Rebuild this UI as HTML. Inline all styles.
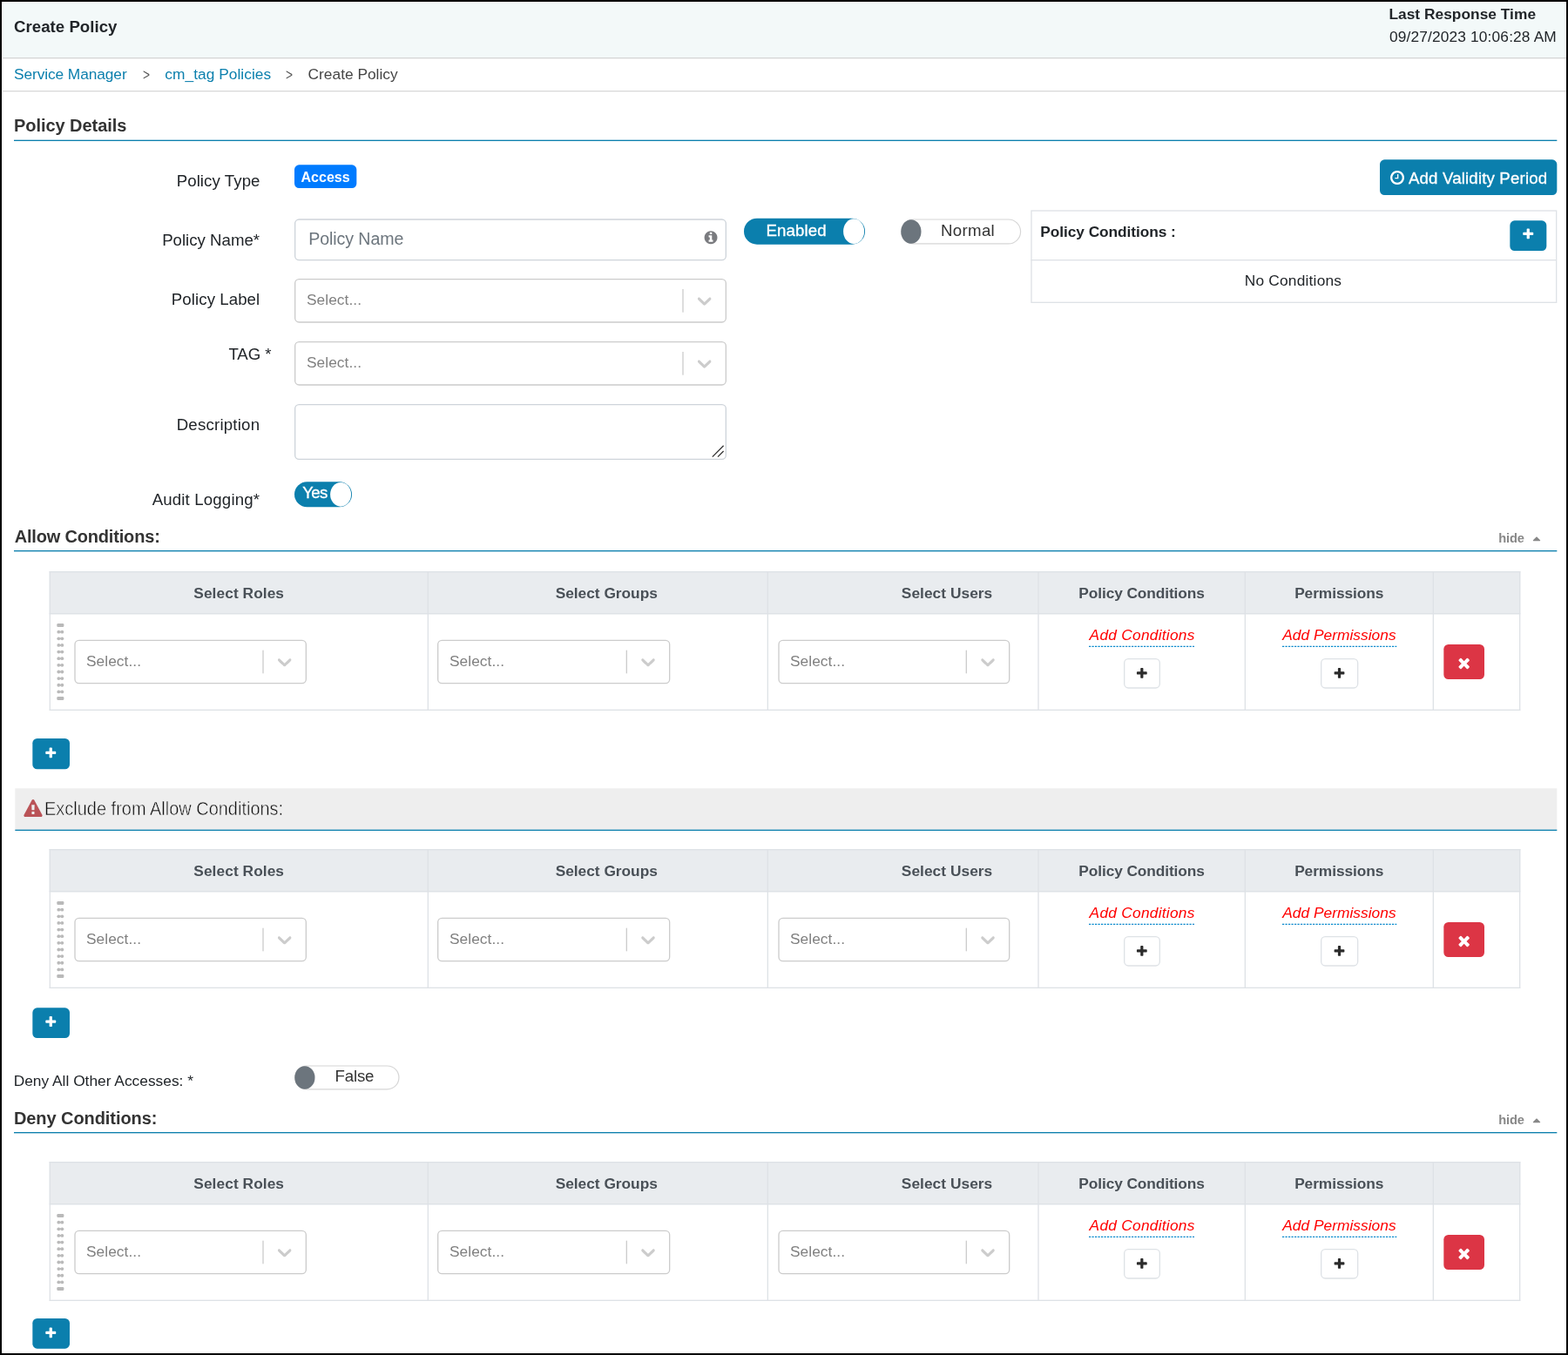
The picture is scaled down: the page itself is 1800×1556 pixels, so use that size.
<!DOCTYPE html>
<html lang="en"><head><meta charset="utf-8"><title>Create Policy</title>
<meta name="viewport" content="width=1800">
<style>
html,body{margin:0;padding:0;}
html{width:1800px;height:1556px;overflow:hidden;background:#fff;}
body{width:1800px;height:1556px;overflow:hidden;background:#fff;font-family:"Liberation Sans", sans-serif;position:relative;}
#frame{position:absolute;left:0;top:0;width:1800px;height:1556px;box-sizing:border-box;border:2px solid #000;pointer-events:none;z-index:10;}
#page{position:absolute;left:0;top:0;width:2700.000px;height:2334.000px;background:#fff;transform-origin:0 0;transform:scale(0.666667);}
#text{position:absolute;left:0;top:0;width:1800px;height:1556px;z-index:5;}
.t{position:absolute;margin:0;padding:0;white-space:nowrap;line-height:1;font-weight:400;display:block;}

#page div,#page svg,#page i{position:absolute;}
.tw{left:0;top:0;width:0;height:0;}
.ic{display:block;overflow:visible;}
.sel{border:2px solid #ccc;border-radius:7.995px;box-sizing:border-box;background:#fff;}
#page .sel .sep{right:72px;top:16.005px;bottom:16.005px;width:2px;background:#ccc;}
#page .sel .chev{right:16.005px;top:50%;margin-top:-19.995px;width:40.005px;height:40.005px;}
</style></head>
<body><div id="page">
<div style="left:4.5px;top:4.5px;width:2691px;height:94.5px;background:#f3f9f9;"></div>
<div style="left:4.5px;top:98.625px;width:2692.5px;height:1.995px;background:#d6d6d6;"></div>
<div style="left:4.5px;top:155.925px;width:2692.5px;height:1.995px;background:#d9d9d9;"></div>
<div style="left:24px;top:241.05px;width:2656.5px;height:2.25px;background:#0b7fad;"></div>
<div style="left:507px;top:283.5px;width:106.5px;height:40.5px;background:#007bff;border-radius:7.995px;"></div>
<div style="left:507px;top:376.5px;width:744px;height:72px;border:2px solid #ced4da;border-radius:7.995px;box-sizing:border-box;background:#fff;"></div>
<svg class="ic" style="left:1211.4px;top:395.85px;width:26.1px;height:26.1px" viewBox="0 0 1792 1792"><path fill="#7a7b7f" d="M1152 1376v-160q0-14-9-23t-23-9h-96v-512q0-14-9-23t-23-9h-320q-14 0-23 9t-9 23v160q0 14 9 23t23 9h96v320h-96q-14 0-23 9t-9 23v160q0 14 9 23t23 9h448q14 0 23-9t9-23zm-128-896v-160q0-14-9-23t-23-9h-192q-14 0-23 9t-9 23v160q0 14 9 23t23 9h192q14 0 23-9t9-23zm640 416q0 209-103 385.500t-279.500 279.500-385.500 103-385.500-103-279.500-279.500-103-385.500 103-385.500 279.500-279.500 385.500-103 385.500 103 279.500 279.500 103 385.500z"/></svg>
<svg class="ic" style="left:1281px;top:376.125px;width:208.5px;height:45px" viewBox="0 0 139.00 30.00"><rect x="0" y="0" width="139.00" height="30.00" rx="15.00" fill="#0b7fad"/><ellipse cx="126.10" cy="15.00" rx="12.0" ry="14.30" fill="#fff"/></svg>
<svg class="ic" style="left:1550.625px;top:376.875px;width:207.375px;height:43.875px" viewBox="0 0 138.25 29.25"><rect x="0.67" y="0.67" width="136.92" height="27.92" rx="13.96" fill="#fff" stroke="#d6d6d6" stroke-width="1.2"/><ellipse cx="11.9" cy="14.62" rx="11.6" ry="13.82" fill="#6c757d"/></svg>
<svg class="ic" style="left:507px;top:829.5px;width:99px;height:43.5px" viewBox="0 0 66.00 29.00"><rect x="0" y="0" width="66.00" height="29.00" rx="14.50" fill="#0b7fad"/><ellipse cx="53.10" cy="14.50" rx="12.0" ry="13.80" fill="#fff"/></svg>
<div class="sel" style="left:507px;top:480px;width:744px;height:76.005px"><i class="sep"></i><svg class="chev" viewBox="0 0 20 20"><path fill="#ccc" d="M4.516 7.548c0.436-0.446 1.043-0.481 1.576 0l3.908 3.747 3.908-3.747c0.533-0.481 1.141-0.446 1.574 0 0.436 0.445 0.408 1.197 0 1.615-0.406 0.418-4.695 4.502-4.695 4.502-0.217 0.223-0.502 0.335-0.787 0.335s-0.57-0.112-0.789-0.335c0 0-4.287-4.084-4.695-4.502s-0.436-1.17 0-1.615z"/></svg></div>
<div class="sel" style="left:507px;top:588px;width:744px;height:76.005px"><i class="sep"></i><svg class="chev" viewBox="0 0 20 20"><path fill="#ccc" d="M4.516 7.548c0.436-0.446 1.043-0.481 1.576 0l3.908 3.747 3.908-3.747c0.533-0.481 1.141-0.446 1.574 0 0.436 0.445 0.408 1.197 0 1.615-0.406 0.418-4.695 4.502-4.695 4.502-0.217 0.223-0.502 0.335-0.787 0.335s-0.57-0.112-0.789-0.335c0 0-4.287-4.084-4.695-4.502s-0.436-1.17 0-1.615z"/></svg></div>
<div style="left:507px;top:696px;width:744px;height:95.55px;border:2px solid #ced4da;border-radius:7.995px;box-sizing:border-box;background:#fff;"></div>
<svg class="ic" style="left:1224px;top:765px;width:24px;height:24px" viewBox="0 0 16 16"><path d="M14.6 1.8 L1.8 14.6 M14.6 8 L8 14.6" stroke="#333" stroke-width="1.3" fill="none"/></svg>
<div style="left:2376px;top:274.5px;width:304.5px;height:61.5px;background:#0b7fad;border-radius:7.995px;"></div>
<svg class="ic" style="left:2391.675px;top:292.275px;width:28.05px;height:28.05px" viewBox="0 0 1792 1792"><path fill="#fff" d="M1024 544v448q0 14-9 23t-23 9h-320q-14 0-23-9t-9-23v-64q0-14 9-23t23-9h224v-352q0-14 9-23t23-9h64q14 0 23 9t9 23zm416 352q0-148-73-273t-198-198-273-73-273 73-198 198-73 273 73 273 198 198 273 73 273-73 198-198 73-273zm224 0q0 209-103 385.500t-279.500 279.500-385.500 103-385.500-103-279.500-279.500-103-385.500 103-385.500 279.500-279.500 385.500-103 385.500 103 279.500 279.500 103 385.500z"/></svg>
<div style="left:1774.5px;top:361.5px;width:906px;height:160.5px;border:2px solid #dee2e6;box-sizing:border-box;"></div>
<div style="left:1774.95px;top:446.55px;width:905.25px;height:1.995px;background:#dee2e6;"></div>
<div style="left:2599.5px;top:379.5px;width:63px;height:52.5px;background:#0b7fad;border-radius:7.995px;"></div>
<svg class="ic" style="left:2619.6px;top:392.4px;width:22.8px;height:22.8px" viewBox="0 0 1792 1792"><path fill="#fff" d="M1600 736v192q0 40-28 68t-68 28h-416v416q0 40-28 68t-68 28h-192q-40 0-68-28t-28-68v-416h-416q-40 0-68-28t-28-68v-192q0-40 28-68t68-28h416v-416q0-40 28-68t68-28h192q40 0 68 28t28 68v416h416q40 0 68 28t28 68z"/></svg>
<svg class="ic" style="left:2634.855px;top:915.99px;width:22.005px;height:22.005px" viewBox="0 0 1792 1792"><path fill="#888" d="M1408 1216q0 26-19 45t-45 19h-896q-26 0-45-19t-19-45 19-45l448-448q19-19 45-19t45 19l448 448q19 19 19 45z"/></svg>
<div style="left:24px;top:947.7px;width:2656.5px;height:2.25px;background:#0b7fad;"></div>
<div class="tw" style="transform:translateY(0px)">
<div style="left:85.095px;top:984.375px;width:2532.96px;height:73.155px;background:#e9ecef;"></div>
<div style="left:85.095px;top:984.375px;width:2532.96px;height:1.995px;background:#dee2e6;"></div>
<div style="left:85.095px;top:1055.52px;width:2532.96px;height:1.995px;background:#dee2e6;"></div>
<div style="left:85.095px;top:1222.02px;width:2532.96px;height:1.995px;background:#dee2e6;"></div>
<div style="left:85.095px;top:984.375px;width:1.995px;height:239.655px;background:#dee2e6;"></div>
<div style="left:736.095px;top:984.375px;width:1.995px;height:239.655px;background:#dee2e6;"></div>
<div style="left:1321.095px;top:984.375px;width:1.995px;height:239.655px;background:#dee2e6;"></div>
<div style="left:1787.295px;top:984.375px;width:1.995px;height:239.655px;background:#dee2e6;"></div>
<div style="left:2142.945px;top:984.375px;width:1.995px;height:239.655px;background:#dee2e6;"></div>
<div style="left:2466.945px;top:984.375px;width:1.995px;height:239.655px;background:#dee2e6;"></div>
<div style="left:2616.045px;top:984.375px;width:1.995px;height:239.655px;background:#dee2e6;"></div>
<svg class="ic" style="left:97.5px;top:1074px;width:12px;height:132.15px" viewBox="0 0 8 88.1"><rect x="0" y="0.00" width="8" height="4" rx="1.3" fill="#b9b9b9"/><circle cx="2" cy="9.64" r="1.9" fill="#b9b9b9"/><circle cx="6" cy="9.64" r="1.9" fill="#b9b9b9"/><rect x="2" y="8.64" width="4" height="2" fill="#bdbdbd"/><circle cx="2" cy="17.28" r="1.9" fill="#b9b9b9"/><circle cx="6" cy="17.28" r="1.9" fill="#b9b9b9"/><rect x="2" y="16.28" width="4" height="2" fill="#bdbdbd"/><circle cx="2" cy="24.92" r="1.9" fill="#b9b9b9"/><circle cx="6" cy="24.92" r="1.9" fill="#b9b9b9"/><rect x="2" y="23.92" width="4" height="2" fill="#bdbdbd"/><circle cx="2" cy="32.56" r="1.9" fill="#b9b9b9"/><circle cx="6" cy="32.56" r="1.9" fill="#b9b9b9"/><rect x="2" y="31.56" width="4" height="2" fill="#bdbdbd"/><circle cx="2" cy="40.20" r="1.9" fill="#b9b9b9"/><circle cx="6" cy="40.20" r="1.9" fill="#b9b9b9"/><rect x="2" y="39.20" width="4" height="2" fill="#bdbdbd"/><circle cx="2" cy="47.84" r="1.9" fill="#b9b9b9"/><circle cx="6" cy="47.84" r="1.9" fill="#b9b9b9"/><rect x="2" y="46.84" width="4" height="2" fill="#bdbdbd"/><circle cx="2" cy="55.48" r="1.9" fill="#b9b9b9"/><circle cx="6" cy="55.48" r="1.9" fill="#b9b9b9"/><rect x="2" y="54.48" width="4" height="2" fill="#bdbdbd"/><circle cx="2" cy="63.12" r="1.9" fill="#b9b9b9"/><circle cx="6" cy="63.12" r="1.9" fill="#b9b9b9"/><rect x="2" y="62.12" width="4" height="2" fill="#bdbdbd"/><circle cx="2" cy="70.76" r="1.9" fill="#b9b9b9"/><circle cx="6" cy="70.76" r="1.9" fill="#b9b9b9"/><rect x="2" y="69.76" width="4" height="2" fill="#bdbdbd"/><circle cx="2" cy="78.40" r="1.9" fill="#b9b9b9"/><circle cx="6" cy="78.40" r="1.9" fill="#b9b9b9"/><rect x="2" y="77.40" width="4" height="2" fill="#bdbdbd"/><rect x="0" y="84.04" width="8" height="4" rx="1.3" fill="#b9b9b9"/></svg>
<div class="sel" style="left:127.5px;top:1102.005px;width:400.5px;height:76.005px"><i class="sep"></i><svg class="chev" viewBox="0 0 20 20"><path fill="#ccc" d="M4.516 7.548c0.436-0.446 1.043-0.481 1.576 0l3.908 3.747 3.908-3.747c0.533-0.481 1.141-0.446 1.574 0 0.436 0.445 0.408 1.197 0 1.615-0.406 0.418-4.695 4.502-4.695 4.502-0.217 0.223-0.502 0.335-0.787 0.335s-0.57-0.112-0.789-0.335c0 0-4.287-4.084-4.695-4.502s-0.436-1.17 0-1.615z"/></svg></div>
<div class="sel" style="left:753px;top:1102.005px;width:400.5px;height:76.005px"><i class="sep"></i><svg class="chev" viewBox="0 0 20 20"><path fill="#ccc" d="M4.516 7.548c0.436-0.446 1.043-0.481 1.576 0l3.908 3.747 3.908-3.747c0.533-0.481 1.141-0.446 1.574 0 0.436 0.445 0.408 1.197 0 1.615-0.406 0.418-4.695 4.502-4.695 4.502-0.217 0.223-0.502 0.335-0.787 0.335s-0.57-0.112-0.789-0.335c0 0-4.287-4.084-4.695-4.502s-0.436-1.17 0-1.615z"/></svg></div>
<div class="sel" style="left:1339.5px;top:1102.005px;width:399.45px;height:76.005px"><i class="sep"></i><svg class="chev" viewBox="0 0 20 20"><path fill="#ccc" d="M4.516 7.548c0.436-0.446 1.043-0.481 1.576 0l3.908 3.747 3.908-3.747c0.533-0.481 1.141-0.446 1.574 0 0.436 0.445 0.408 1.197 0 1.615-0.406 0.418-4.695 4.502-4.695 4.502-0.217 0.223-0.502 0.335-0.787 0.335s-0.57-0.112-0.789-0.335c0 0-4.287-4.084-4.695-4.502s-0.436-1.17 0-1.615z"/></svg></div>
<svg class="ic" style="left:1875px;top:1112.325px;width:181.5px;height:3px" viewBox="0 0 121.00 2"><line x1="0" y1="1" x2="121.00" y2="1" stroke="#0088cc" stroke-width="1.15" stroke-dasharray="2.2 1.3"/></svg>
<svg class="ic" style="left:2207.55px;top:1112.325px;width:196.95px;height:3px" viewBox="0 0 131.30 2"><line x1="0" y1="1" x2="131.30" y2="1" stroke="#0088cc" stroke-width="1.15" stroke-dasharray="2.2 1.3"/></svg>
<div style="left:1935px;top:1134px;width:63px;height:52.05px;background:#fff;border:2px solid #dee2e6;border-radius:7.995px;box-sizing:border-box;"></div>
<svg class="ic" style="left:1955.25px;top:1149.075px;width:22.5px;height:22.5px" viewBox="0 0 1792 1792"><path fill="#2b2b2b" d="M1600 736v192q0 40-28 68t-68 28h-416v416q0 40-28 68t-68 28h-192q-40 0-68-28t-28-68v-416h-416q-40 0-68-28t-28-68v-192q0-40 28-68t68-28h416v-416q0-40 28-68t68-28h192q40 0 68 28t28 68v416h416q40 0 68 28t28 68z"/></svg>
<div style="left:2274px;top:1134px;width:64.5px;height:52.05px;background:#fff;border:2px solid #dee2e6;border-radius:7.995px;box-sizing:border-box;"></div>
<svg class="ic" style="left:2295px;top:1149.075px;width:22.5px;height:22.5px" viewBox="0 0 1792 1792"><path fill="#2b2b2b" d="M1600 736v192q0 40-28 68t-68 28h-416v416q0 40-28 68t-68 28h-192q-40 0-68-28t-28-68v-416h-416q-40 0-68-28t-28-68v-192q0-40 28-68t68-28h416v-416q0-40 28-68t68-28h192q40 0 68 28t28 68v416h416q40 0 68 28t28 68z"/></svg>
<div style="left:2485.5px;top:1110px;width:70.5px;height:60px;background:#dc3545;border-radius:7.995px;"></div>
<svg class="ic" style="left:2506.68px;top:1127.64px;width:28.005px;height:28.005px" viewBox="0 0 1792 1792"><path fill="#fff" d="M1490 1322q0 40-28 68l-136 136q-28 28-68 28t-68-28l-294-294-294 294q-28 28-68 28t-68-28l-136-136q-28-28-28-68t28-68l294-294-294-294q-28-28-28-68t28-68l136-136q28-28 68-28t68 28l294 294 294-294q28-28 68-28t68 28l136 136q28 28 28 68t-28 68l-294 294 294 294q28 28 28 68z"/></svg>
</div>
<div style="left:55.5px;top:1272px;width:64.5px;height:52.5px;background:#0b7fad;border-radius:7.995px;"></div>
<svg class="ic" style="left:76.35px;top:1285.95px;width:22.8px;height:22.8px" viewBox="0 0 1792 1792"><path fill="#fff" d="M1600 736v192q0 40-28 68t-68 28h-416v416q0 40-28 68t-68 28h-192q-40 0-68-28t-28-68v-416h-416q-40 0-68-28t-28-68v-192q0-40 28-68t68-28h416v-416q0-40 28-68t68-28h192q40 0 68 28t28 68v416h416q40 0 68 28t28 68z"/></svg>
<div style="left:25.5px;top:1357.5px;width:2655px;height:71.4px;background:#eeeeee;"></div>
<div style="left:25.5px;top:1428.75px;width:2655px;height:2.4px;background:#0b7fad;"></div>
<svg class="ic" style="left:40.5px;top:1376.55px;width:31.95px;height:30.15px" viewBox="0 0 1792 1664" preserveAspectRatio="none"><path fill="#ba5357" d="M1024 1375v-190q0-14-9.500-23.500t-22.500-9.500h-192q-13 0-22.500 9.500t-9.500 23.500v190q0 14 9.500 23.500t22.500 9.500h192q13 0 22.500-9.500t9.500-23.500zm-2-374l18-459q0-12-10-19-13-11-24-11h-220q-11 0-24 11-10 7-10 21l17 457q0 10 10 16.500t24 6.500h185q14 0 23.500-6.500t10.500-16.500zm-14-934l768 1408q35 63-2 126-17 29-46.500 46t-63.500 17h-1536q-34 0-63.500-17t-46.500-46q-37-63-2-126l768-1408q17-31 47-49t65-18 65 18 47 49z"/></svg>
<div class="tw" style="transform:translateY(478.5px)">
<div style="left:85.095px;top:984.375px;width:2532.96px;height:73.155px;background:#e9ecef;"></div>
<div style="left:85.095px;top:984.375px;width:2532.96px;height:1.995px;background:#dee2e6;"></div>
<div style="left:85.095px;top:1055.52px;width:2532.96px;height:1.995px;background:#dee2e6;"></div>
<div style="left:85.095px;top:1222.02px;width:2532.96px;height:1.995px;background:#dee2e6;"></div>
<div style="left:85.095px;top:984.375px;width:1.995px;height:239.655px;background:#dee2e6;"></div>
<div style="left:736.095px;top:984.375px;width:1.995px;height:239.655px;background:#dee2e6;"></div>
<div style="left:1321.095px;top:984.375px;width:1.995px;height:239.655px;background:#dee2e6;"></div>
<div style="left:1787.295px;top:984.375px;width:1.995px;height:239.655px;background:#dee2e6;"></div>
<div style="left:2142.945px;top:984.375px;width:1.995px;height:239.655px;background:#dee2e6;"></div>
<div style="left:2466.945px;top:984.375px;width:1.995px;height:239.655px;background:#dee2e6;"></div>
<div style="left:2616.045px;top:984.375px;width:1.995px;height:239.655px;background:#dee2e6;"></div>
<svg class="ic" style="left:97.5px;top:1074px;width:12px;height:132.15px" viewBox="0 0 8 88.1"><rect x="0" y="0.00" width="8" height="4" rx="1.3" fill="#b9b9b9"/><circle cx="2" cy="9.64" r="1.9" fill="#b9b9b9"/><circle cx="6" cy="9.64" r="1.9" fill="#b9b9b9"/><rect x="2" y="8.64" width="4" height="2" fill="#bdbdbd"/><circle cx="2" cy="17.28" r="1.9" fill="#b9b9b9"/><circle cx="6" cy="17.28" r="1.9" fill="#b9b9b9"/><rect x="2" y="16.28" width="4" height="2" fill="#bdbdbd"/><circle cx="2" cy="24.92" r="1.9" fill="#b9b9b9"/><circle cx="6" cy="24.92" r="1.9" fill="#b9b9b9"/><rect x="2" y="23.92" width="4" height="2" fill="#bdbdbd"/><circle cx="2" cy="32.56" r="1.9" fill="#b9b9b9"/><circle cx="6" cy="32.56" r="1.9" fill="#b9b9b9"/><rect x="2" y="31.56" width="4" height="2" fill="#bdbdbd"/><circle cx="2" cy="40.20" r="1.9" fill="#b9b9b9"/><circle cx="6" cy="40.20" r="1.9" fill="#b9b9b9"/><rect x="2" y="39.20" width="4" height="2" fill="#bdbdbd"/><circle cx="2" cy="47.84" r="1.9" fill="#b9b9b9"/><circle cx="6" cy="47.84" r="1.9" fill="#b9b9b9"/><rect x="2" y="46.84" width="4" height="2" fill="#bdbdbd"/><circle cx="2" cy="55.48" r="1.9" fill="#b9b9b9"/><circle cx="6" cy="55.48" r="1.9" fill="#b9b9b9"/><rect x="2" y="54.48" width="4" height="2" fill="#bdbdbd"/><circle cx="2" cy="63.12" r="1.9" fill="#b9b9b9"/><circle cx="6" cy="63.12" r="1.9" fill="#b9b9b9"/><rect x="2" y="62.12" width="4" height="2" fill="#bdbdbd"/><circle cx="2" cy="70.76" r="1.9" fill="#b9b9b9"/><circle cx="6" cy="70.76" r="1.9" fill="#b9b9b9"/><rect x="2" y="69.76" width="4" height="2" fill="#bdbdbd"/><circle cx="2" cy="78.40" r="1.9" fill="#b9b9b9"/><circle cx="6" cy="78.40" r="1.9" fill="#b9b9b9"/><rect x="2" y="77.40" width="4" height="2" fill="#bdbdbd"/><rect x="0" y="84.04" width="8" height="4" rx="1.3" fill="#b9b9b9"/></svg>
<div class="sel" style="left:127.5px;top:1102.005px;width:400.5px;height:76.005px"><i class="sep"></i><svg class="chev" viewBox="0 0 20 20"><path fill="#ccc" d="M4.516 7.548c0.436-0.446 1.043-0.481 1.576 0l3.908 3.747 3.908-3.747c0.533-0.481 1.141-0.446 1.574 0 0.436 0.445 0.408 1.197 0 1.615-0.406 0.418-4.695 4.502-4.695 4.502-0.217 0.223-0.502 0.335-0.787 0.335s-0.57-0.112-0.789-0.335c0 0-4.287-4.084-4.695-4.502s-0.436-1.17 0-1.615z"/></svg></div>
<div class="sel" style="left:753px;top:1102.005px;width:400.5px;height:76.005px"><i class="sep"></i><svg class="chev" viewBox="0 0 20 20"><path fill="#ccc" d="M4.516 7.548c0.436-0.446 1.043-0.481 1.576 0l3.908 3.747 3.908-3.747c0.533-0.481 1.141-0.446 1.574 0 0.436 0.445 0.408 1.197 0 1.615-0.406 0.418-4.695 4.502-4.695 4.502-0.217 0.223-0.502 0.335-0.787 0.335s-0.57-0.112-0.789-0.335c0 0-4.287-4.084-4.695-4.502s-0.436-1.17 0-1.615z"/></svg></div>
<div class="sel" style="left:1339.5px;top:1102.005px;width:399.45px;height:76.005px"><i class="sep"></i><svg class="chev" viewBox="0 0 20 20"><path fill="#ccc" d="M4.516 7.548c0.436-0.446 1.043-0.481 1.576 0l3.908 3.747 3.908-3.747c0.533-0.481 1.141-0.446 1.574 0 0.436 0.445 0.408 1.197 0 1.615-0.406 0.418-4.695 4.502-4.695 4.502-0.217 0.223-0.502 0.335-0.787 0.335s-0.57-0.112-0.789-0.335c0 0-4.287-4.084-4.695-4.502s-0.436-1.17 0-1.615z"/></svg></div>
<svg class="ic" style="left:1875px;top:1112.325px;width:181.5px;height:3px" viewBox="0 0 121.00 2"><line x1="0" y1="1" x2="121.00" y2="1" stroke="#0088cc" stroke-width="1.15" stroke-dasharray="2.2 1.3"/></svg>
<svg class="ic" style="left:2207.55px;top:1112.325px;width:196.95px;height:3px" viewBox="0 0 131.30 2"><line x1="0" y1="1" x2="131.30" y2="1" stroke="#0088cc" stroke-width="1.15" stroke-dasharray="2.2 1.3"/></svg>
<div style="left:1935px;top:1134px;width:63px;height:52.05px;background:#fff;border:2px solid #dee2e6;border-radius:7.995px;box-sizing:border-box;"></div>
<svg class="ic" style="left:1955.25px;top:1149.075px;width:22.5px;height:22.5px" viewBox="0 0 1792 1792"><path fill="#2b2b2b" d="M1600 736v192q0 40-28 68t-68 28h-416v416q0 40-28 68t-68 28h-192q-40 0-68-28t-28-68v-416h-416q-40 0-68-28t-28-68v-192q0-40 28-68t68-28h416v-416q0-40 28-68t68-28h192q40 0 68 28t28 68v416h416q40 0 68 28t28 68z"/></svg>
<div style="left:2274px;top:1134px;width:64.5px;height:52.05px;background:#fff;border:2px solid #dee2e6;border-radius:7.995px;box-sizing:border-box;"></div>
<svg class="ic" style="left:2295px;top:1149.075px;width:22.5px;height:22.5px" viewBox="0 0 1792 1792"><path fill="#2b2b2b" d="M1600 736v192q0 40-28 68t-68 28h-416v416q0 40-28 68t-68 28h-192q-40 0-68-28t-28-68v-416h-416q-40 0-68-28t-28-68v-192q0-40 28-68t68-28h416v-416q0-40 28-68t68-28h192q40 0 68 28t28 68v416h416q40 0 68 28t28 68z"/></svg>
<div style="left:2485.5px;top:1110px;width:70.5px;height:60px;background:#dc3545;border-radius:7.995px;"></div>
<svg class="ic" style="left:2506.68px;top:1127.64px;width:28.005px;height:28.005px" viewBox="0 0 1792 1792"><path fill="#fff" d="M1490 1322q0 40-28 68l-136 136q-28 28-68 28t-68-28l-294-294-294 294q-28 28-68 28t-68-28l-136-136q-28-28-28-68t28-68l294-294-294-294q-28-28-28-68t28-68l136-136q28-28 68-28t68 28l294 294 294-294q28-28 68-28t68 28l136 136q28 28 28 68t-28 68l-294 294 294 294q28 28 28 68z"/></svg>
</div>
<div style="left:55.5px;top:1735.5px;width:64.5px;height:52.5px;background:#0b7fad;border-radius:7.995px;"></div>
<svg class="ic" style="left:76.35px;top:1749.45px;width:22.8px;height:22.8px" viewBox="0 0 1792 1792"><path fill="#fff" d="M1600 736v192q0 40-28 68t-68 28h-416v416q0 40-28 68t-68 28h-192q-40 0-68-28t-28-68v-416h-416q-40 0-68-28t-28-68v-192q0-40 28-68t68-28h416v-416q0-40 28-68t68-28h192q40 0 68 28t28 68v416h416q40 0 68 28t28 68z"/></svg>
<svg class="ic" style="left:507.45px;top:1835.1px;width:180.9px;height:42.3px" viewBox="0 0 120.60 28.20"><rect x="0.67" y="0.67" width="119.27" height="26.87" rx="13.43" fill="#fff" stroke="#d6d6d6" stroke-width="1.2"/><ellipse cx="11.9" cy="14.10" rx="11.6" ry="13.30" fill="#6c757d"/></svg>
<svg class="ic" style="left:2634.855px;top:1917.855px;width:22.005px;height:22.005px" viewBox="0 0 1792 1792"><path fill="#888" d="M1408 1216q0 26-19 45t-45 19h-896q-26 0-45-19t-19-45 19-45l448-448q19-19 45-19t45 19l448 448q19 19 19 45z"/></svg>
<div style="left:24px;top:1949.7px;width:2656.5px;height:2.25px;background:#0b7fad;"></div>
<div class="tw" style="transform:translateY(1017px)">
<div style="left:85.095px;top:984.375px;width:2532.96px;height:73.155px;background:#e9ecef;"></div>
<div style="left:85.095px;top:984.375px;width:2532.96px;height:1.995px;background:#dee2e6;"></div>
<div style="left:85.095px;top:1055.52px;width:2532.96px;height:1.995px;background:#dee2e6;"></div>
<div style="left:85.095px;top:1222.02px;width:2532.96px;height:1.995px;background:#dee2e6;"></div>
<div style="left:85.095px;top:984.375px;width:1.995px;height:239.655px;background:#dee2e6;"></div>
<div style="left:736.095px;top:984.375px;width:1.995px;height:239.655px;background:#dee2e6;"></div>
<div style="left:1321.095px;top:984.375px;width:1.995px;height:239.655px;background:#dee2e6;"></div>
<div style="left:1787.295px;top:984.375px;width:1.995px;height:239.655px;background:#dee2e6;"></div>
<div style="left:2142.945px;top:984.375px;width:1.995px;height:239.655px;background:#dee2e6;"></div>
<div style="left:2466.945px;top:984.375px;width:1.995px;height:239.655px;background:#dee2e6;"></div>
<div style="left:2616.045px;top:984.375px;width:1.995px;height:239.655px;background:#dee2e6;"></div>
<svg class="ic" style="left:97.5px;top:1074px;width:12px;height:132.15px" viewBox="0 0 8 88.1"><rect x="0" y="0.00" width="8" height="4" rx="1.3" fill="#b9b9b9"/><circle cx="2" cy="9.64" r="1.9" fill="#b9b9b9"/><circle cx="6" cy="9.64" r="1.9" fill="#b9b9b9"/><rect x="2" y="8.64" width="4" height="2" fill="#bdbdbd"/><circle cx="2" cy="17.28" r="1.9" fill="#b9b9b9"/><circle cx="6" cy="17.28" r="1.9" fill="#b9b9b9"/><rect x="2" y="16.28" width="4" height="2" fill="#bdbdbd"/><circle cx="2" cy="24.92" r="1.9" fill="#b9b9b9"/><circle cx="6" cy="24.92" r="1.9" fill="#b9b9b9"/><rect x="2" y="23.92" width="4" height="2" fill="#bdbdbd"/><circle cx="2" cy="32.56" r="1.9" fill="#b9b9b9"/><circle cx="6" cy="32.56" r="1.9" fill="#b9b9b9"/><rect x="2" y="31.56" width="4" height="2" fill="#bdbdbd"/><circle cx="2" cy="40.20" r="1.9" fill="#b9b9b9"/><circle cx="6" cy="40.20" r="1.9" fill="#b9b9b9"/><rect x="2" y="39.20" width="4" height="2" fill="#bdbdbd"/><circle cx="2" cy="47.84" r="1.9" fill="#b9b9b9"/><circle cx="6" cy="47.84" r="1.9" fill="#b9b9b9"/><rect x="2" y="46.84" width="4" height="2" fill="#bdbdbd"/><circle cx="2" cy="55.48" r="1.9" fill="#b9b9b9"/><circle cx="6" cy="55.48" r="1.9" fill="#b9b9b9"/><rect x="2" y="54.48" width="4" height="2" fill="#bdbdbd"/><circle cx="2" cy="63.12" r="1.9" fill="#b9b9b9"/><circle cx="6" cy="63.12" r="1.9" fill="#b9b9b9"/><rect x="2" y="62.12" width="4" height="2" fill="#bdbdbd"/><circle cx="2" cy="70.76" r="1.9" fill="#b9b9b9"/><circle cx="6" cy="70.76" r="1.9" fill="#b9b9b9"/><rect x="2" y="69.76" width="4" height="2" fill="#bdbdbd"/><circle cx="2" cy="78.40" r="1.9" fill="#b9b9b9"/><circle cx="6" cy="78.40" r="1.9" fill="#b9b9b9"/><rect x="2" y="77.40" width="4" height="2" fill="#bdbdbd"/><rect x="0" y="84.04" width="8" height="4" rx="1.3" fill="#b9b9b9"/></svg>
<div class="sel" style="left:127.5px;top:1102.005px;width:400.5px;height:76.005px"><i class="sep"></i><svg class="chev" viewBox="0 0 20 20"><path fill="#ccc" d="M4.516 7.548c0.436-0.446 1.043-0.481 1.576 0l3.908 3.747 3.908-3.747c0.533-0.481 1.141-0.446 1.574 0 0.436 0.445 0.408 1.197 0 1.615-0.406 0.418-4.695 4.502-4.695 4.502-0.217 0.223-0.502 0.335-0.787 0.335s-0.57-0.112-0.789-0.335c0 0-4.287-4.084-4.695-4.502s-0.436-1.17 0-1.615z"/></svg></div>
<div class="sel" style="left:753px;top:1102.005px;width:400.5px;height:76.005px"><i class="sep"></i><svg class="chev" viewBox="0 0 20 20"><path fill="#ccc" d="M4.516 7.548c0.436-0.446 1.043-0.481 1.576 0l3.908 3.747 3.908-3.747c0.533-0.481 1.141-0.446 1.574 0 0.436 0.445 0.408 1.197 0 1.615-0.406 0.418-4.695 4.502-4.695 4.502-0.217 0.223-0.502 0.335-0.787 0.335s-0.57-0.112-0.789-0.335c0 0-4.287-4.084-4.695-4.502s-0.436-1.17 0-1.615z"/></svg></div>
<div class="sel" style="left:1339.5px;top:1102.005px;width:399.45px;height:76.005px"><i class="sep"></i><svg class="chev" viewBox="0 0 20 20"><path fill="#ccc" d="M4.516 7.548c0.436-0.446 1.043-0.481 1.576 0l3.908 3.747 3.908-3.747c0.533-0.481 1.141-0.446 1.574 0 0.436 0.445 0.408 1.197 0 1.615-0.406 0.418-4.695 4.502-4.695 4.502-0.217 0.223-0.502 0.335-0.787 0.335s-0.57-0.112-0.789-0.335c0 0-4.287-4.084-4.695-4.502s-0.436-1.17 0-1.615z"/></svg></div>
<svg class="ic" style="left:1875px;top:1112.325px;width:181.5px;height:3px" viewBox="0 0 121.00 2"><line x1="0" y1="1" x2="121.00" y2="1" stroke="#0088cc" stroke-width="1.15" stroke-dasharray="2.2 1.3"/></svg>
<svg class="ic" style="left:2207.55px;top:1112.325px;width:196.95px;height:3px" viewBox="0 0 131.30 2"><line x1="0" y1="1" x2="131.30" y2="1" stroke="#0088cc" stroke-width="1.15" stroke-dasharray="2.2 1.3"/></svg>
<div style="left:1935px;top:1134px;width:63px;height:52.05px;background:#fff;border:2px solid #dee2e6;border-radius:7.995px;box-sizing:border-box;"></div>
<svg class="ic" style="left:1955.25px;top:1149.075px;width:22.5px;height:22.5px" viewBox="0 0 1792 1792"><path fill="#2b2b2b" d="M1600 736v192q0 40-28 68t-68 28h-416v416q0 40-28 68t-68 28h-192q-40 0-68-28t-28-68v-416h-416q-40 0-68-28t-28-68v-192q0-40 28-68t68-28h416v-416q0-40 28-68t68-28h192q40 0 68 28t28 68v416h416q40 0 68 28t28 68z"/></svg>
<div style="left:2274px;top:1134px;width:64.5px;height:52.05px;background:#fff;border:2px solid #dee2e6;border-radius:7.995px;box-sizing:border-box;"></div>
<svg class="ic" style="left:2295px;top:1149.075px;width:22.5px;height:22.5px" viewBox="0 0 1792 1792"><path fill="#2b2b2b" d="M1600 736v192q0 40-28 68t-68 28h-416v416q0 40-28 68t-68 28h-192q-40 0-68-28t-28-68v-416h-416q-40 0-68-28t-28-68v-192q0-40 28-68t68-28h416v-416q0-40 28-68t68-28h192q40 0 68 28t28 68v416h416q40 0 68 28t28 68z"/></svg>
<div style="left:2485.5px;top:1110px;width:70.5px;height:60px;background:#dc3545;border-radius:7.995px;"></div>
<svg class="ic" style="left:2506.68px;top:1127.64px;width:28.005px;height:28.005px" viewBox="0 0 1792 1792"><path fill="#fff" d="M1490 1322q0 40-28 68l-136 136q-28 28-68 28t-68-28l-294-294-294 294q-28 28-68 28t-68-28l-136-136q-28-28-28-68t28-68l294-294-294-294q-28-28-28-68t28-68l136-136q28-28 68-28t68 28l294 294 294-294q28-28 68-28t68 28l136 136q28 28 28 68t-28 68l-294 294 294 294q28 28 28 68z"/></svg>
</div>
<div style="left:55.5px;top:2271.375px;width:64.5px;height:51.75px;background:#0b7fad;border-radius:7.995px;"></div>
<svg class="ic" style="left:76.35px;top:2284.95px;width:22.8px;height:22.8px" viewBox="0 0 1792 1792"><path fill="#fff" d="M1600 736v192q0 40-28 68t-68 28h-416v416q0 40-28 68t-68 28h-192q-40 0-68-28t-28-68v-416h-416q-40 0-68-28t-28-68v-192q0-40 28-68t68-28h416v-416q0-40 28-68t68-28h192q40 0 68 28t28 68v416h416q40 0 68 28t28 68z"/></svg>
</div>
<div id="text">
<h1 class="t h" style="left:16.05px;top:22px;font-size:18.67px;letter-spacing:0.013px;font-weight:700;color:#212529;">Create Policy</h1>
<span class="t h" style="left:1594.44px;top:8px;font-size:17.33px;letter-spacing:0.022px;font-weight:700;color:#212529;">Last Response Time</span>
<span class="t h" style="left:1594.88px;top:34px;font-size:17.33px;letter-spacing:0.147px;color:#212529;">09/27/2023 10:06:28 AM</span>
<span class="t bc" style="left:16.09px;top:77px;font-size:17.33px;letter-spacing:-0.100px;color:#0b7fad;">Service Manager</span>
<span class="t bc" style="left:163.65px;top:77px;font-size:18px;color:#555;transform:scaleX(0.7624);transform-origin:0 0;">&gt;</span>
<span class="t bc" style="left:189.30px;top:77px;font-size:17.33px;letter-spacing:0.035px;color:#0b7fad;">cm_tag Policies</span>
<span class="t bc" style="left:328.45px;top:77px;font-size:18px;color:#555;transform:scaleX(0.7624);transform-origin:0 0;">&gt;</span>
<span class="t bc" style="left:353.59px;top:77px;font-size:17.33px;color:#444;">Create Policy</span>
<h2 class="t sec" style="left:15.93px;top:134px;font-size:20px;letter-spacing:-0.047px;font-weight:700;color:#333;">Policy Details</h2>
<label class="t lab" style="left:202.69px;top:199px;font-size:18.67px;letter-spacing:0.071px;color:#212529;">Policy Type</label>
<label class="t lab" style="left:186.16px;top:267px;font-size:18.67px;letter-spacing:-0.007px;color:#212529;">Policy Name*</label>
<label class="t lab" style="left:196.86px;top:335px;font-size:18.67px;letter-spacing:0.068px;color:#212529;">Policy Label</label>
<label class="t lab" style="left:262.41px;top:398px;font-size:18.67px;letter-spacing:-0.096px;color:#212529;">TAG *</label>
<label class="t lab" style="left:202.65px;top:479px;font-size:18.67px;letter-spacing:0.211px;color:#212529;">Description</label>
<label class="t lab" style="left:174.64px;top:565px;font-size:18.67px;letter-spacing:0.156px;color:#212529;">Audit Logging*</label>
<span class="t badge" style="left:345.51px;top:196px;font-size:16px;letter-spacing:0.028px;font-weight:700;color:#fff;">Access</span>
<span class="t ph" style="left:354.23px;top:265px;font-size:19.6px;letter-spacing:-0.081px;color:#6c757d;">Policy Name</span>
<span class="t tg" style="left:879.55px;top:256px;font-size:18.67px;letter-spacing:0.102px;color:#fff;-webkit-text-stroke:0.3px #fff;">Enabled</span>
<span class="t tg" style="left:1080.04px;top:256px;font-size:18.67px;letter-spacing:0.316px;color:#333;">Normal</span>
<span class="t tg" style="left:347.34px;top:557px;font-size:18.67px;letter-spacing:-0.712px;color:#fff;-webkit-text-stroke:0.3px #fff;">Yes</span>
<span class="t ph" style="left:351.92px;top:336px;font-size:17.33px;letter-spacing:0.063px;color:#808080;">Select...</span>
<span class="t ph" style="left:351.92px;top:408px;font-size:17.33px;letter-spacing:0.063px;color:#808080;">Select...</span>
<span class="t btn" style="left:1616.94px;top:196px;font-size:18.67px;letter-spacing:0.163px;color:#fff;-webkit-text-stroke:0.3px #fff;">Add Validity Period</span>
<span class="t pc" style="left:1194.37px;top:258px;font-size:17.33px;letter-spacing:-0.083px;font-weight:700;color:#212529;">Policy Conditions :</span>
<span class="t pc" style="left:1428.67px;top:314px;font-size:17.33px;letter-spacing:0.211px;color:#212529;">No Conditions</span>
<h2 class="t sec" style="left:16.64px;top:606px;font-size:20px;letter-spacing:-0.175px;font-weight:700;color:#333;">Allow Conditions:</h2>
<span class="t hide" style="left:1720.31px;top:611px;font-size:14.67px;letter-spacing:-0.175px;font-weight:700;color:#888;">hide</span>
<span class="t th" style="left:222.32px;top:673px;font-size:17.33px;letter-spacing:0.056px;font-weight:700;color:#495057;">Select Roles</span>
<span class="t th" style="left:637.69px;top:673px;font-size:17.33px;letter-spacing:-0.024px;font-weight:700;color:#495057;">Select Groups</span>
<span class="t th" style="left:1034.82px;top:673px;font-size:17.33px;letter-spacing:0.034px;font-weight:700;color:#495057;">Select Users</span>
<span class="t th" style="left:1238.36px;top:673px;font-size:17.33px;letter-spacing:-0.112px;font-weight:700;color:#495057;">Policy Conditions</span>
<span class="t th" style="left:1486.13px;top:673px;font-size:17.33px;letter-spacing:-0.072px;font-weight:700;color:#495057;">Permissions</span>
<span class="t ph" style="left:98.92px;top:751px;font-size:17.33px;letter-spacing:0.063px;color:#808080;">Select...</span>
<span class="t ph" style="left:515.92px;top:751px;font-size:17.33px;letter-spacing:0.063px;color:#808080;">Select...</span>
<span class="t ph" style="left:906.92px;top:751px;font-size:17.33px;letter-spacing:0.063px;color:#808080;">Select...</span>
<span class="t ed" style="left:1250.60px;top:721px;font-size:17.33px;letter-spacing:0.248px;font-style:italic;color:#ff0000;">Add Conditions</span>
<span class="t ed" style="left:1472.23px;top:721px;font-size:17.33px;letter-spacing:0.026px;font-style:italic;color:#ff0000;">Add Permissions</span>
<h3 class="t exc" style="left:51.44px;top:918px;font-size:22px;color:#101010;transform:scaleX(0.9076);transform-origin:0 0;-webkit-text-stroke:0.5px #eeeeee;">Exclude from Allow Conditions:</h3>
<span class="t th" style="left:222.32px;top:992px;font-size:17.33px;letter-spacing:0.056px;font-weight:700;color:#495057;">Select Roles</span>
<span class="t th" style="left:637.69px;top:992px;font-size:17.33px;letter-spacing:-0.024px;font-weight:700;color:#495057;">Select Groups</span>
<span class="t th" style="left:1034.82px;top:992px;font-size:17.33px;letter-spacing:0.034px;font-weight:700;color:#495057;">Select Users</span>
<span class="t th" style="left:1238.36px;top:992px;font-size:17.33px;letter-spacing:-0.112px;font-weight:700;color:#495057;">Policy Conditions</span>
<span class="t th" style="left:1486.13px;top:992px;font-size:17.33px;letter-spacing:-0.072px;font-weight:700;color:#495057;">Permissions</span>
<span class="t ph" style="left:98.92px;top:1070px;font-size:17.33px;letter-spacing:0.063px;color:#808080;">Select...</span>
<span class="t ph" style="left:515.92px;top:1070px;font-size:17.33px;letter-spacing:0.063px;color:#808080;">Select...</span>
<span class="t ph" style="left:906.92px;top:1070px;font-size:17.33px;letter-spacing:0.063px;color:#808080;">Select...</span>
<span class="t ed" style="left:1250.60px;top:1040px;font-size:17.33px;letter-spacing:0.248px;font-style:italic;color:#ff0000;">Add Conditions</span>
<span class="t ed" style="left:1472.23px;top:1040px;font-size:17.33px;letter-spacing:0.026px;font-style:italic;color:#ff0000;">Add Permissions</span>
<span class="t lab" style="left:15.68px;top:1233px;font-size:17.33px;letter-spacing:0.008px;color:#212529;">Deny All Other Accesses: *</span>
<span class="t tg" style="left:384.59px;top:1227px;font-size:18.67px;letter-spacing:-0.188px;color:#333;">False</span>
<h2 class="t sec" style="left:15.93px;top:1274px;font-size:20px;letter-spacing:-0.071px;font-weight:700;color:#333;">Deny Conditions:</h2>
<span class="t hide" style="left:1720.31px;top:1279px;font-size:14.67px;letter-spacing:-0.175px;font-weight:700;color:#888;">hide</span>
<span class="t th" style="left:222.32px;top:1351px;font-size:17.33px;letter-spacing:0.056px;font-weight:700;color:#495057;">Select Roles</span>
<span class="t th" style="left:637.69px;top:1351px;font-size:17.33px;letter-spacing:-0.024px;font-weight:700;color:#495057;">Select Groups</span>
<span class="t th" style="left:1034.82px;top:1351px;font-size:17.33px;letter-spacing:0.034px;font-weight:700;color:#495057;">Select Users</span>
<span class="t th" style="left:1238.36px;top:1351px;font-size:17.33px;letter-spacing:-0.112px;font-weight:700;color:#495057;">Policy Conditions</span>
<span class="t th" style="left:1486.13px;top:1351px;font-size:17.33px;letter-spacing:-0.072px;font-weight:700;color:#495057;">Permissions</span>
<span class="t ph" style="left:98.92px;top:1429px;font-size:17.33px;letter-spacing:0.063px;color:#808080;">Select...</span>
<span class="t ph" style="left:515.92px;top:1429px;font-size:17.33px;letter-spacing:0.063px;color:#808080;">Select...</span>
<span class="t ph" style="left:906.92px;top:1429px;font-size:17.33px;letter-spacing:0.063px;color:#808080;">Select...</span>
<span class="t ed" style="left:1250.60px;top:1399px;font-size:17.33px;letter-spacing:0.248px;font-style:italic;color:#ff0000;">Add Conditions</span>
<span class="t ed" style="left:1472.23px;top:1399px;font-size:17.33px;letter-spacing:0.026px;font-style:italic;color:#ff0000;">Add Permissions</span>
</div>
<div id="frame"></div></body></html>
